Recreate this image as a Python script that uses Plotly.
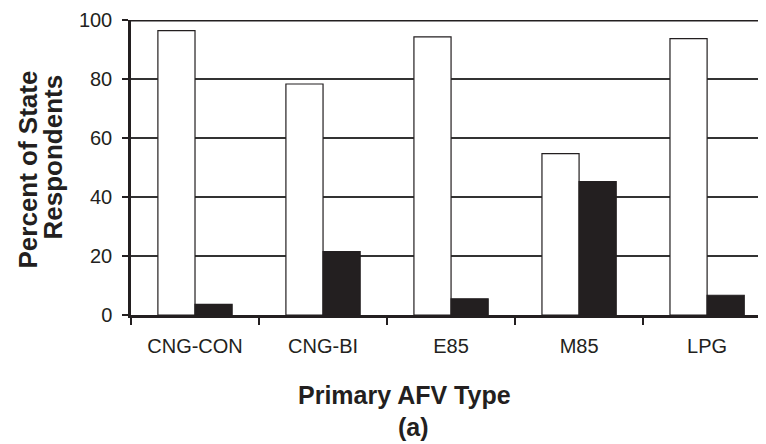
import plotly.graph_objects as go

# AFV types on the x axis
categories = ['CNG-CON', 'CNG-BI', 'E85', 'M85', 'LPG']
# white bars and black bars, percent of state respondents
white_vals = [96.4, 78.3, 94.3, 54.7, 93.7]
black_vals = [3.6, 21.5, 5.5, 45.2, 6.7]
y_ticks = [0, 20, 40, 60, 80, 100]

ink = '#231f20'
font_name = 'Liberation Sans, Arial, sans-serif'

fig = go.Figure()

fig.add_trace(go.Bar(
    name='white',
    x=categories,
    y=white_vals,
    marker=dict(color='white', line=dict(color=ink, width=1.2)),
))
fig.add_trace(go.Bar(
    name='black',
    x=categories,
    y=black_vals,
    marker=dict(color=ink, line=dict(color=ink, width=1.2)),
))

# heavy line along the top of the plot
fig.add_shape(type='line', xref='paper', x0=0, x1=1, yref='y', y0=100, y1=100,
              line=dict(color=ink, width=3), layer='above')

# page body has an 8px margin, so the figure is drawn 8px smaller/shifted
# y axis title is two separate rotated lines, tight spacing
fig.add_annotation(text='<b>Percent of State</b>', textangle=-90,
                   xref='paper', x=0, xshift=-104, xanchor='center',
                   yref='paper', y=0.5, yshift=-2, yanchor='middle',
                   showarrow=False, font=dict(family=font_name, size=26, color=ink))
fig.add_annotation(text='<b>Respondents</b>', textangle=-90,
                   xref='paper', x=0, xshift=-79, xanchor='center',
                   yref='paper', y=0.5, yshift=10, yanchor='middle',
                   showarrow=False, font=dict(family=font_name, size=26, color=ink))

# x axis title and panel label
fig.add_annotation(text='<b>Primary AFV Type</b>',
                   xref='paper', x=0, xshift=404 - 131, xanchor='center',
                   yref='paper', y=0, yshift=-(395 - 315), yanchor='middle',
                   showarrow=False, font=dict(family=font_name, size=25, color=ink))
fig.add_annotation(text='<b>(a)</b>',
                   xref='paper', x=0, xshift=413 - 131, xanchor='center',
                   yref='paper', y=0, yshift=-(427 - 315), yanchor='middle',
                   showarrow=False, font=dict(family=font_name, size=25, color=ink))

fig.update_layout(
    width=758, height=436,
    margin=dict(l=123, r=0, t=12, b=129),
    barmode='group',
    bargap=0.42,
    bargroupgap=0,
    showlegend=False,
    plot_bgcolor='white',
    paper_bgcolor='white',
    font=dict(family=font_name, size=20, color=ink),
)

fig.update_xaxes(
    type='category',
    range=[-0.5, 4.46],
    showgrid=False,
    showline=True, linecolor=ink, linewidth=2.5,
    ticks='outside', tickson='boundaries', ticklen=7, tickwidth=2, tickcolor=ink,
    tickfont=dict(family=font_name, size=20, color=ink),
    ticklabelstandoff=11,
)
fig.update_yaxes(
    range=[0, 100],
    tickvals=y_ticks,
    showgrid=True, gridcolor='#333333', gridwidth=1.5,
    zeroline=False,
    showline=True, linecolor=ink, linewidth=2.5,
    ticks='outside', ticklen=6, tickwidth=2, tickcolor=ink,
    tickfont=dict(family=font_name, size=20, color=ink),
    ticklabelstandoff=6,
)

fig.write_html("out.html")
